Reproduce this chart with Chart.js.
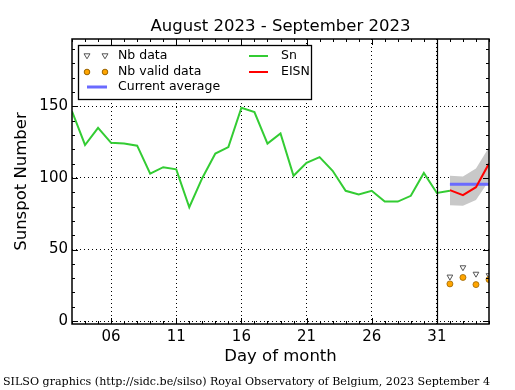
<!DOCTYPE html>
<html>
<head>
<meta charset="utf-8">
<script src="https://cdn.jsdelivr.net/npm/chart.js@4.4.0/dist/chart.umd.min.js"></script>
<style>
  body { margin: 0; background: #fff; }
</style>
</head>
<body>
<canvas id="chart" width="515" height="390"></canvas>
<script>
// Daily Sn (days of August, 32+ = September)
const snDays = [3, 4, 5, 6, 7, 8, 9, 10, 11, 12, 13, 14, 15, 16, 17, 18, 19, 20, 21, 22, 23, 24, 25, 26, 27, 28, 29, 30, 31, 32];
const snValues = [146.5, 123, 135, 124.5, 124, 122.5, 103, 107.5, 106, 79.5, 100, 117, 121.5, 149, 146, 124, 131, 101.5, 110.5, 114.5, 105, 91, 88.5, 91, 83.5, 83.5, 87.5, 103.5, 89.5, 91];

// Estimated ISN and its error band
const eisnDays = [32, 33, 34, 35];
const eisnValues = [91.5, 88, 93.5, 110];
const bandLow = [81, 80.5, 84.5, 98];
const bandHigh = [101.5, 101, 106.5, 121.5];

// Current average
const avgDays = [32, 35];
const avgValues = [95.5, 95.5];

// Number of stations
const nbDays = [32, 33, 34, 35];
const nbData = [31, 37.5, 33, 32];
const nbValid = [26, 30.5, 25.5, 29];

// Ticks
const xTicks = [6, 11, 16, 21, 26, 31];
const yTicks = [0, 50, 100, 150];

const pts = (xs, ys) => xs.map((v, i) => ({ x: v, y: ys[i] }));
const FONT = 'DejaVu Sans';

// Frame, inward ticks, texts and legend
const decor = {
    id: 'decor',
    afterDatasetsDraw(chart) {
        const { ctx, chartArea: a, scales: { x, y } } = chart;
        ctx.save();
        ctx.strokeStyle = '#000';

        // separator at end of month
        ctx.lineWidth = 1.2;
        const xs = Math.round(x.getPixelForValue(31)) + 0.5;
        ctx.beginPath();
        ctx.moveTo(xs, a.top);
        ctx.lineTo(xs, a.bottom);
        ctx.stroke();

        // ticks
        ctx.lineWidth = 1;
        ctx.beginPath();
        for (let d = 3; d <= 35; d++) {
            const px = Math.round(x.getPixelForValue(d)) + 0.5;
            const len = xTicks.includes(d) ? 6 : 3;
            ctx.moveTo(px, a.bottom); ctx.lineTo(px, a.bottom - len);
            ctx.moveTo(px, a.top); ctx.lineTo(px, a.top + len);
        }
        for (let v = 0; v <= 190; v += 10) {
            const py = Math.round(y.getPixelForValue(v)) + 0.5;
            const len = yTicks.includes(v) ? 6 : 3;
            ctx.moveTo(a.left, py); ctx.lineTo(a.left + len, py);
            ctx.moveTo(a.right, py); ctx.lineTo(a.right - len, py);
        }
        ctx.stroke();

        // frame
        ctx.lineWidth = 1.5;
        ctx.strokeRect(a.left, a.top, a.right - a.left, a.bottom - a.top);
        ctx.restore();
    },
    afterDraw(chart) {
        const { ctx, chartArea: a } = chart;
        ctx.save();
        ctx.fillStyle = '#000';
        ctx.textBaseline = 'middle';

        // title
        ctx.textAlign = 'center';
        ctx.font = `16.5px "${FONT}"`;
        ctx.fillText('August 2023 - September 2023', (a.left + a.right) / 2, 27);

        // axis titles
        ctx.fillText('Day of month', (a.left + a.right) / 2, 357);
        ctx.save();
        ctx.translate(22, (a.top + a.bottom) / 2);
        ctx.rotate(-Math.PI / 2);
        ctx.fillText('Sunspot Number', 0, 0);
        ctx.restore();

        // footer
        ctx.textAlign = 'left';
        ctx.font = '11.1px "DejaVu Serif"';
        ctx.fillText('SILSO graphics (http://sidc.be/silso) Royal Observatory of Belgium, 2023 September 4', 3, 382);

        // legend box
        ctx.fillStyle = '#fff';
        ctx.fillRect(78, 45, 233, 54);
        ctx.strokeStyle = '#000';
        ctx.lineWidth = 1.3;
        ctx.strokeRect(78.5, 45.5, 233, 54);

        const r1 = 56, r2 = 72, r3 = 87;
        // triangles
        ctx.lineWidth = 1;
        ctx.strokeStyle = '#555';
        ctx.fillStyle = '#fff';
        [87, 105].forEach(cx => {
            ctx.beginPath();
            ctx.moveTo(cx - 3, r1 - 2.2);
            ctx.lineTo(cx + 3, r1 - 2.2);
            ctx.lineTo(cx, r1 + 2.8);
            ctx.closePath();
            ctx.fill(); ctx.stroke();
        });
        // circles
        ctx.strokeStyle = '#9a6400';
        ctx.fillStyle = '#ffa500';
        [87, 105].forEach(cx => {
            ctx.beginPath();
            ctx.arc(cx, r2, 2.8, 0, Math.PI * 2);
            ctx.fill(); ctx.stroke();
        });
        // lines
        const seg = (x1, x2, yy, col, w) => {
            ctx.strokeStyle = col; ctx.lineWidth = w;
            ctx.beginPath(); ctx.moveTo(x1, yy); ctx.lineTo(x2, yy); ctx.stroke();
        };
        seg(87, 107, r3, '#6a6aff', 3);
        seg(249, 268, r1, '#33cc33', 2);
        seg(249, 268, r2, '#ff0000', 2);

        ctx.fillStyle = '#000';
        ctx.font = `12.5px "${FONT}"`;
        ctx.fillText('Nb data', 118, r1);
        ctx.fillText('Nb valid data', 118, r2);
        ctx.fillText('Current average', 118, r3);
        ctx.fillText('Sn', 281, r1);
        ctx.fillText('EISN', 281, r2);
        ctx.restore();
    }
};

new Chart(document.getElementById('chart'), {
    type: 'line',
    data: {
        datasets: [
            {
                label: 'Nb valid data',
                data: pts(nbDays, nbValid),
                showLine: false,
                pointStyle: 'circle',
                pointRadius: 3,
                pointBackgroundColor: '#ffa500',
                pointBorderColor: '#9a6400',
                pointBorderWidth: 0.8
            },
            {
                label: 'Nb data',
                data: pts(nbDays, nbData),
                showLine: false,
                pointStyle: 'triangle',
                pointRotation: 180,
                pointRadius: 3.3,
                pointBackgroundColor: '#fff',
                pointBorderColor: '#555',
                pointBorderWidth: 1
            },
            {
                label: 'EISN',
                data: pts(eisnDays, eisnValues),
                borderColor: '#ff0000',
                borderWidth: 2,
                pointRadius: 0
            },
            {
                label: 'Current average',
                data: pts(avgDays, avgValues),
                borderColor: '#6a6aff',
                borderWidth: 3,
                pointRadius: 0
            },
            {
                label: 'Sn',
                data: pts(snDays, snValues),
                borderColor: '#33cc33',
                borderWidth: 2,
                pointRadius: 0
            },
            {
                label: 'high',
                data: pts(eisnDays, bandHigh),
                borderWidth: 0,
                borderColor: 'rgba(0,0,0,0)',
                backgroundColor: 'rgba(200,200,200,1)',
                fill: '+1',
                pointRadius: 0
            },
            {
                label: 'low',
                data: pts(eisnDays, bandLow),
                borderWidth: 0,
                borderColor: 'rgba(0,0,0,0)',
                pointRadius: 0,
                fill: false
            }
        ]
    },
    options: {
        responsive: false,
        animation: false,
        layout: { padding: { left: 0, right: 26, top: 39, bottom: 0 } },
        plugins: {
            legend: { display: false },
            title: { display: false },
            tooltip: { enabled: false }
        },
        scales: {
            x: {
                type: 'linear',
                min: 3,
                max: 35,
                afterBuildTicks: s => { s.ticks = xTicks.map(v => ({ value: v })); },
                afterFit: s => { s.height = 66; },
                ticks: {
                    padding: 4,
                    color: '#000',
                    font: { family: FONT, size: 15 },
                    callback: v => String(v).padStart(2, '0'),
                    maxRotation: 0
                },
                grid: { color: '#000', lineWidth: 1, drawTicks: false },
                border: { display: false, dash: [1, 3] }
            },
            y: {
                min: -2,
                max: 197,
                afterBuildTicks: s => { s.ticks = yTicks.map(v => ({ value: v })); },
                afterFit: s => { s.width = 72; },
                ticks: {
                    padding: 4,
                    color: '#000',
                    font: { family: FONT, size: 15 }
                },
                grid: { color: '#000', lineWidth: 1, drawTicks: false },
                border: { display: false, dash: [1, 3] }
            }
        }
    },
    plugins: [decor]
});
</script>
</body>
</html>
